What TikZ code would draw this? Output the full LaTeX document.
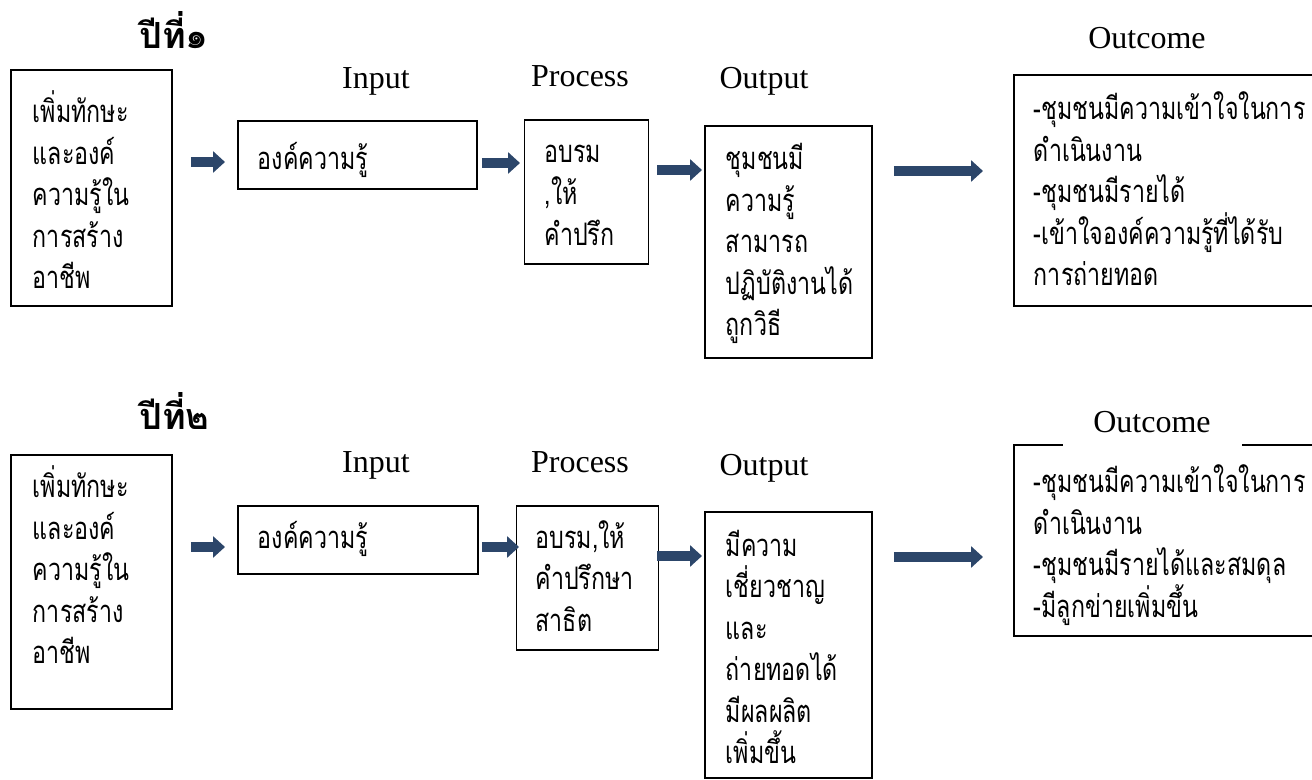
\documentclass[tikz,border=0pt]{standalone}
\usepackage{fontspec}
\setmainfont{Liberation Serif}
\newfontfamily\thaifont[Script=Thai, FakeStretch=0.75]{Loma}
\newfontfamily\thaibold[Script=Thai]{Loma}
\usetikzlibrary{arrows.meta}
\definecolor{pfeilblau}{RGB}{44,70,106}
\exhyphenpenalty=10000

\begin{document}
\begin{tikzpicture}[x=0.5pt, y=-0.5pt,
		kasten/.style={draw, line width=0.9pt, anchor=base west, align=left, inner ysep=0pt,
			font=\thaifont\fontsize{15.5}{20.75}\selectfont},
		jahr/.style={anchor=base west, inner sep=0pt, font=\thaibold\bfseries\fontsize{18}{20}\selectfont},
		phase/.style={anchor=base, font=\fontsize{16}{18}\selectfont},
		ergebnis/.style={phase, fill=white, minimum width=89.5pt, text depth=8pt},
		pfeil/.style={line width=5pt, pfeilblau, -{Triangle[length=6pt, width=10.5pt]}}]
			\useasboundingbox (0, 0) rectangle (1312, 780);
			
			% Jahr 1: Kaesten
			\node[jahr] (jahrA) at (139, 49) {ปีที่๑};
			\node[kasten, inner xsep=11pt, text width=58.5pt, text height=26.5pt, text depth=91.5pt] (wissenA) at (10, 123) {เพิ่มทักษะ\\และองค์\\ความรู้ใน\\การสร้าง\\อาชีพ};
			\node[kasten, inner xsep=10pt, text width=99.5pt, text height=24.5pt, text depth=9.5pt] (inputA) at (237, 170) {องค์ความรู้};
			\node[kasten, line width=0.6pt, inner xsep=10pt, text width=42pt, text height=21.5pt, text depth=50.5pt] (processA) at (524, 163) {อบรม\\,ให้\\คำปรึก};
			\node[kasten, inner xsep=10.5pt, text width=62.5pt, text height=22pt, text depth=94pt] (outputA) at (704, 170) {ชุมชนมี\\ความรู้\\สามารถ\\ปฏิบัติงานได้\\ถูกวิธี};
			\node[kasten, inner xsep=10pt, text width=129.5pt, text height=22.5pt, text depth=93pt] (outcomeA) at (1013, 120) {-ชุมชนมีความเข้าใจในการ\\ดำเนินงาน\\-ชุมชนมีรายได้\\-เข้าใจองค์ความรู้ที่ได้รับ\\การถ่ายทอด};
			
			% Jahr 1: Ueberschriften
			\node[phase] (inLabelA) at (376, 89) {Input};
			\node[phase] (procLabelA) at (580, 87) {Process};
			\node[phase] (outLabelA) at (764, 89) {Output};
			\node[ergebnis] (ergLabelA) at (1147, 49) {Outcome};
			
			% Jahr 1: Pfeile
			\draw[pfeil, shorten <=9pt, shorten >=6pt] (wissenA.east |- 0, 162) -- (inputA.west |- 0, 162);
			\draw[pfeil, shorten <=2pt, shorten >=2pt] (inputA.east |- 0, 163) -- (processA.west |- 0, 163);
			\draw[pfeil, shorten <=4pt, shorten >=1pt] (processA.east |- 0, 170) -- (outputA.west |- 0, 170);
			\draw[pfeil, shorten <=10.5pt, shorten >=15pt] (outputA.east |- 0, 171) -- (outcomeA.west |- 0, 171);
			
			% Jahr 2: Kaesten
			\node[jahr] (jahrB) at (139, 430) {ปีที่๒};
			\node[kasten, inner xsep=11pt, text width=58.5pt, text height=21.5pt, text depth=105.5pt] (wissenB) at (10, 498) {เพิ่มทักษะ\\และองค์\\ความรู้ใน\\การสร้าง\\อาชีพ};
			\node[kasten, inner xsep=10pt, text width=100pt, text height=21pt, text depth=13pt] (inputB) at (237, 548) {องค์ความรู้};
			\node[kasten, line width=0.6pt, inner xsep=9.5pt, text width=52pt, text height=21pt, text depth=51pt] (processB) at (516, 548) {อบรม,ให้\\คำปรึกษา\\สาธิต};
			\node[kasten, inner xsep=10.5pt, text width=62.5pt, text height=22pt, text depth=111pt] (outputB) at (704, 556) {มีความ\\เชี่ยวชาญ\\และ\\ถ่ายทอดได้\\มีผลผลิต\\เพิ่มขึ้น};
			\node[kasten, inner xsep=10pt, text width=129.5pt, text height=24pt, text depth=71.5pt] (outcomeB) at (1013, 493) {-ชุมชนมีความเข้าใจในการ\\ดำเนินงาน\\-ชุมชนมีรายได้และสมดุล\\-มีลูกข่ายเพิ่มขึ้น};
			
			% Jahr 2: Ueberschriften
			\node[phase] (inLabelB) at (376, 473) {Input};
			\node[phase] (procLabelB) at (580, 473) {Process};
			\node[phase] (outLabelB) at (764, 475) {Output};
			\node[ergebnis] (ergLabelB) at (1152, 433) {Outcome};
			
			% Jahr 2: Pfeile
			\draw[pfeil, shorten <=9pt, shorten >=6pt] (wissenB.east |- 0, 547) -- (inputB.west |- 0, 547);
			\draw[pfeil, shorten <=1.5pt, shorten >=-1.5pt] (inputB.east |- 0, 547) -- (processB.west |- 0, 547);
			\draw[pfeil, shorten <=-1pt, shorten >=1pt] (processB.east |- 0, 556) -- (outputB.west |- 0, 556);
			\draw[pfeil, shorten <=10.5pt, shorten >=15pt] (outputB.east |- 0, 557) -- (outcomeB.west |- 0, 557);
		\end{tikzpicture}
\end{document}
